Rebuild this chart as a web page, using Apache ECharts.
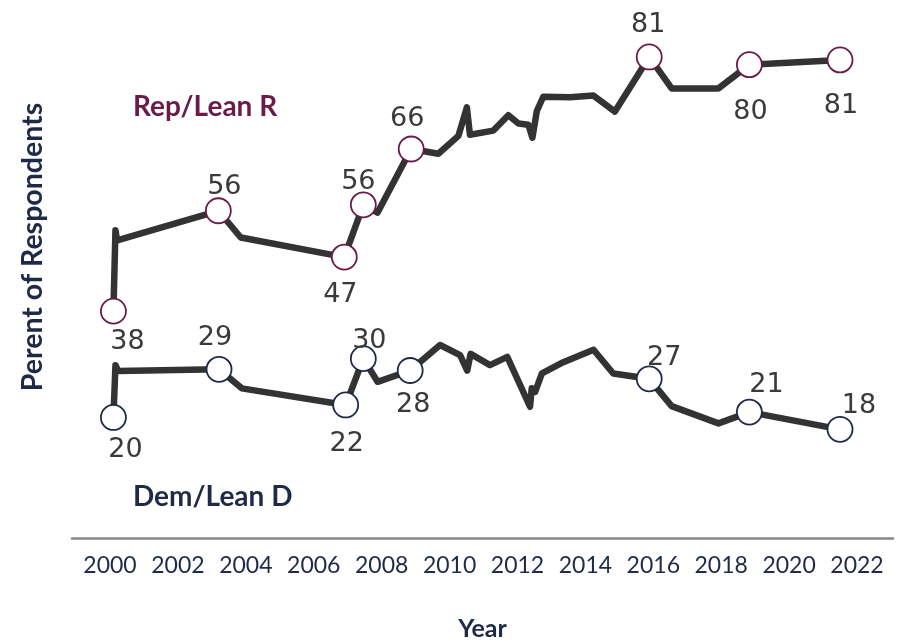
<!DOCTYPE html>
<html>
<head>
<meta charset="utf-8">
<script src="https://cdn.jsdelivr.net/npm/echarts@6/dist/echarts.min.js"></script>
<style>
html,body{margin:0;padding:0;background:#fff;}
#chart{width:898px;height:642px;}
</style>
</head>
<body>
<div id="chart"></div>
<script>
// ---- Data ----
const tickYears = [2000, 2002, 2004, 2006, 2008, 2010, 2012, 2014, 2016, 2018, 2020, 2022];

const repYears  = [2000.10, 2000.16, 2000.21, 2003.19, 2003.85, 2006.90, 2007.46, 2007.88, 2008.87, 2009.67, 2010.26, 2010.51, 2010.60, 2011.29, 2011.73, 2012.03, 2012.32, 2012.44, 2012.57, 2012.76, 2013.55, 2014.24, 2014.87, 2015.88, 2016.54, 2017.92, 2018.83, 2021.50];
const repValues = [38.2, 51.8, 50.1, 55.1, 50.6, 47.3, 56.1, 54.8, 65.5, 64.7, 67.7, 72.5, 67.9, 68.6, 71.2, 69.8, 69.6, 67.4, 71.9, 74.3, 74.2, 74.5, 71.8, 81.0, 75.7, 75.7, 79.7, 80.5];

const demYears  = [2000.10, 2000.16, 2000.24, 2003.21, 2003.88, 2006.94, 2007.46, 2007.88, 2008.84, 2009.72, 2010.31, 2010.52, 2010.62, 2011.19, 2011.70, 2012.37, 2012.42, 2012.52, 2012.72, 2013.35, 2014.24, 2014.82, 2015.88, 2016.54, 2017.92, 2018.83, 2021.50];
const demValues = [20.3, 29.1, 28.1, 28.4, 25.2, 22.4, 30.2, 26.3, 28.2, 32.5, 30.8, 28.2, 31.0, 29.1, 30.5, 22.1, 25.2, 24.6, 27.7, 29.6, 31.7, 27.7, 26.8, 22.2, 19.3, 21.2, 18.3];

const repMarkerYears  = [2000.10, 2003.19, 2006.90, 2007.46, 2008.87, 2015.88, 2018.83, 2021.50];
const repMarkerValues = [38.2, 55.1, 47.3, 56.1, 65.5, 81.0, 79.7, 80.5];
const repLabels       = ['38', '56', '47', '56', '66', '81', '80', '81'];

const demMarkerYears  = [2000.10, 2003.21, 2006.94, 2007.46, 2008.84, 2015.88, 2018.83, 2021.50];
const demMarkerValues = [20.3, 28.4, 22.4, 30.2, 28.2, 26.8, 21.2, 18.3];
const demLabels       = ['20', '29', '22', '30', '28', '27', '21', '18'];

// ---- Label placement (style, not data) ----
const repLabelOffsets = [[14, 31], [6, -24], [-4, 38], [-5, -23], [-4, -30], [-1, -32], [1, 47], [1, 46]];
const demLabelOffsets = [[12, 33], [-4, -31], [1, 39], [6, -18], [3, 34], [15, -21], [17, -27], [19, -23]];

const NAVY = '#1f2a48';
const MAROON = '#6b1b48';
const LINE = '#333333';

function zip(xs, ys) { return xs.map((x, i) => [x, ys[i]]); }

function markerData(xs, ys, labels, offsets) {
  return xs.map((x, i) => ({
    value: [x, ys[i]],
    label: { formatter: labels[i], offset: offsets[i] }
  }));
}

const chart = echarts.init(document.getElementById('chart'), null, { renderer: 'canvas' });

const labelStyle = {
  show: true,
  position: 'inside',
  fontFamily: 'DejaVu Sans',
  fontSize: 27,
  color: '#3a3a3a'
};

chart.setOption({
  animation: false,
  backgroundColor: '#ffffff',
  grid: { left: 72, right: 5, top: 3.5, bottom: 104, containLabel: false, outerBoundsMode: 'none' },
  xAxis: {
    type: 'value',
    min: 1998.88,
    max: 2023.06,
    splitLine: { show: false },
    axisTick: { show: false },
    axisLine: { show: true, lineStyle: { color: '#888888', width: 2.5 } },
    axisLabel: {
      customValues: tickYears,
      formatter: v => String(v),
      fontFamily: 'Lato',
      fontSize: 23,
      color: NAVY,
      margin: 16
    },
    name: 'Year',
    nameLocation: 'middle',
    nameGap: 78,
    nameTextStyle: { fontFamily: 'Lato', fontWeight: 'bold', fontSize: 25, color: NAVY }
  },
  yAxis: {
    type: 'value',
    min: 0,
    max: 90,
    show: false,
    splitLine: { show: false }
  },
  graphic: [
    {
      type: 'text', x: 33, y: 247, rotation: Math.PI / 2,
      style: { text: 'Perent of Respondents', fontFamily: 'Lato', fontWeight: 'bold', fontSize: 28.5, fill: NAVY, align: 'center', verticalAlign: 'middle' }
    },
    {
      type: 'text', x: 133, y: 107,
      style: { text: 'Rep/Lean R', fontFamily: 'Lato', fontWeight: 'bold', fontSize: 28, fill: MAROON, align: 'left', verticalAlign: 'middle' }
    },
    {
      type: 'text', x: 133, y: 497,
      style: { text: 'Dem/Lean D', fontFamily: 'Lato', fontWeight: 'bold', fontSize: 28, fill: NAVY, align: 'left', verticalAlign: 'middle' }
    }
  ],
  series: [
    {
      name: 'Rep/Lean R', type: 'line', data: zip(repYears, repValues),
      showSymbol: false, symbol: 'none',
      lineStyle: { color: LINE, width: 6.5, join: 'round', cap: 'round' },
      z: 2
    },
    {
      name: 'Dem/Lean D', type: 'line', data: zip(demYears, demValues),
      showSymbol: false, symbol: 'none',
      lineStyle: { color: LINE, width: 6.5, join: 'round', cap: 'round' },
      z: 2
    },
    {
      name: 'Rep markers', type: 'scatter',
      data: markerData(repMarkerYears, repMarkerValues, repLabels, repLabelOffsets),
      symbol: 'circle', symbolSize: 25,
      itemStyle: { color: '#ffffff', borderColor: MAROON, borderWidth: 1.8, opacity: 1 },
      label: labelStyle,
      z: 5
    },
    {
      name: 'Dem markers', type: 'scatter',
      data: markerData(demMarkerYears, demMarkerValues, demLabels, demLabelOffsets),
      symbol: 'circle', symbolSize: 25,
      itemStyle: { color: '#ffffff', borderColor: NAVY, borderWidth: 1.8, opacity: 1 },
      label: labelStyle,
      z: 5
    }
  ]
});
</script>
</body>
</html>
